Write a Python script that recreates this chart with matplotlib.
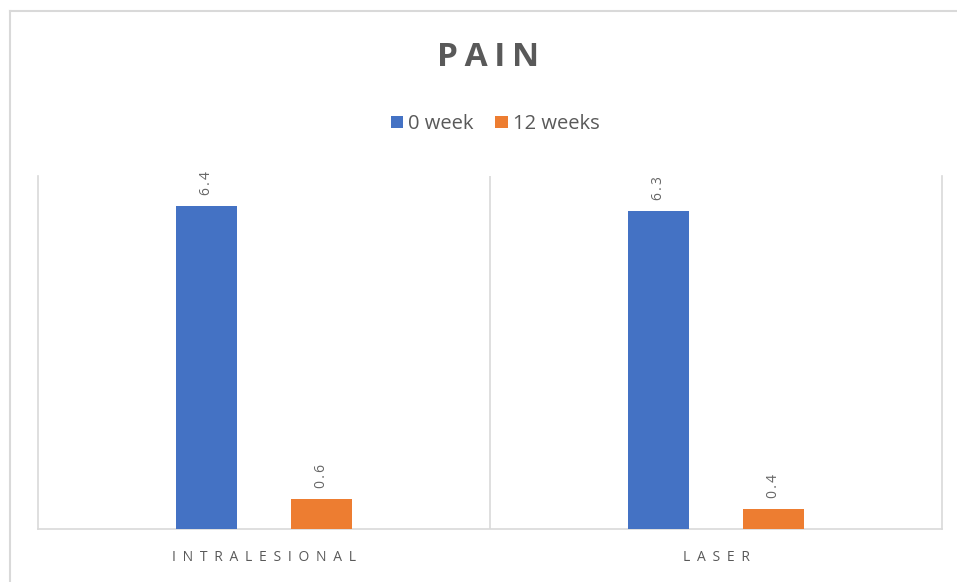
import numpy as np
import matplotlib.pyplot as plt
from matplotlib.lines import Line2D

plt.rcParams['font.family'] = ['Open Sans', 'DejaVu Sans']

categories = ["INTRALESIONAL", "LASER"]
series_names = ["0 week", "12 weeks"]
week0 = [6.4, 6.3]
week12 = [0.6, 0.4]
colors = ['#4472C4', '#ED7D31']
text_gray = '#595959'
grid_gray = '#D9D9D9'


def spaced(s, sep="\u2009"):
    return sep.join(s)


fig = plt.figure(figsize=(9.57, 5.82), dpi=100)
ax = fig.add_axes([38 / 957, 53 / 582, 904 / 957, 353 / 582])

x = np.arange(len(categories))
width = 0.135
offset = 0.128
for vals, name, color, dx in zip([week0, week12], series_names, colors, [-offset, offset]):
    bars = ax.bar(x + dx, vals, width, color=color, label=name, zorder=3)
    for b, v in zip(bars, vals):
        ax.annotate(spaced(f"{v:.1f}"), (b.get_x() + b.get_width() / 2, v),
                    xytext=(0, 8), textcoords='offset points',
                    rotation=90, ha='center', va='bottom',
                    fontsize=10, color='#666666')

ax.set_xlim(-0.5, 1.5)
ax.set_ylim(0, 7)
ax.set_yticks([])
ax.set_xticks(x)
ax.set_xticklabels([spaced(c, "\u2009\u2009\u2009") for c in categories],
                   fontsize=10, color=text_gray)
ax.tick_params(axis='x', length=0, pad=15)

# category separators and frame
ax.axvline(0.5, color=grid_gray, lw=1.2, zorder=1)
for side in ['left', 'right', 'bottom']:
    ax.spines[side].set_color(grid_gray)
    ax.spines[side].set_linewidth(1.2)
ax.spines['top'].set_visible(False)

fig.text(488 / 957, 1 - 57 / 582, spaced("PAIN"), ha='center', va='center',
         fontsize=24, fontweight='bold', color=text_gray)

leg = fig.legend(loc='center', bbox_to_anchor=(495 / 957, 1 - 124 / 582), ncol=2,
                 frameon=False, fontsize=14.5, handlelength=0.6, handleheight=0.6,
                 handletextpad=0.25, columnspacing=1.1)
for t in leg.get_texts():
    t.set_color(text_gray)

# outer chart border
fig.add_artist(Line2D([10 / 957, 10 / 957], [0, 1 - 11 / 582], color=grid_gray, lw=1.5))
fig.add_artist(Line2D([10 / 957, 1], [1 - 11 / 582, 1 - 11 / 582], color=grid_gray, lw=1.5))

fig.savefig("out.png", dpi=100)
